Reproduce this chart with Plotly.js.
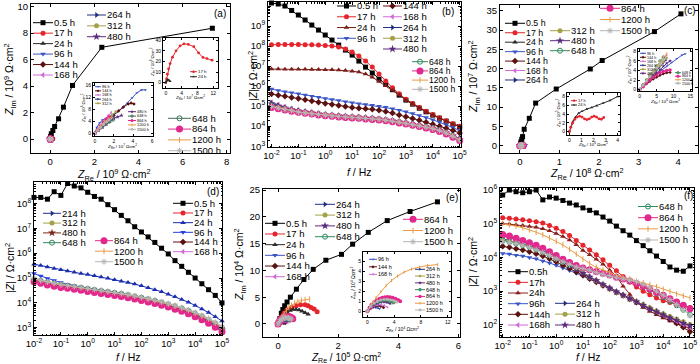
<!DOCTYPE html>
<html><head><meta charset="utf-8">
<script src="https://cdn.plot.ly/plotly-3.0.1.min.js"></script>
<style>html,body{margin:0;padding:0;background:#fff}#g{width:700px;height:364px}</style>
</head><body><div id="g"></div>
<script>
// ---------------- DATA ----------------
const fq=[0.01,0.0178,0.0316,0.0562,0.1,0.178,0.316,0.562,1,1.78,3.16,5.62,10,17.8,31.6,56.2,100,178,316,562,1000,1780,3160,5620,10000,17800,31600,56200,100000];
const KEYS=['0.5 h','17 h','24 h','96 h','144 h','168 h','264 h','312 h','480 h','648 h','864 h','1200 h','1500 h'];
// log-axis tick labels
const fTickVals=[0.01,0.1,1,10,100,1000,10000,100000];
const fTickText=['10<sup>-2</sup>','10<sup>-1</sup>','10<sup>0</sup>','10<sup>1</sup>','10<sup>2</sup>','10<sup>3</sup>','10<sup>4</sup>','10<sup>5</sup>'];
const zTickVals=[1e2,1e3,1e4,1e5,1e6,1e7,1e8,1e9,1e10];
const zTickText=['10<sup>2</sup>','10<sup>3</sup>','10<sup>4</sup>','10<sup>5</sup>','10<sup>6</sup>','10<sup>7</sup>','10<sup>8</sup>','10<sup>9</sup>','10<sup>10</sup>'];

// panel (b) |Z|
const b_z05=[1.41e10,1.26e10,1.0e10,6.0e9,3.55e9,2.0e9,1.12e9,6.3e8,3.55e8,2.0e8,1.12e8,6.3e7,3.55e7,1.78e7,8.9e6,4.5e6,2.24e6,1.2e6,6.6e5,3.55e5,2.0e5,1.26e5,7.9e4,5.2e4,3.55e4,2.5e4,1.78e4,1.26e4,9.5e3];
const b_z17=[1.17e8,1.2e8,1.2e8,1.2e8,1.2e8,1.17e8,1.15e8,1.12e8,1.07e8,1.0e8,8.9e7,7.1e7,5.0e7,3.16e7,1.78e7,8.9e6,4.0e6,1.78e6,8.3e5,4.2e5,2.24e5,1.35e5,8.5e4,5.6e4,3.8e4,2.6e4,1.86e4,1.32e4,1.0e4];
const b_z24=[7.1e6,7.1e6,7.0e6,7.0e6,6.9e6,6.9e6,6.8e6,6.7e6,6.6e6,6.5e6,6.3e6,6.0e6,5.6e6,5.0e6,4.0e6,2.8e6,1.7e6,1.05e6,6.2e5,3.6e5,2.1e5,1.3e5,8.2e4,5.3e4,3.6e4,2.5e4,1.78e4,1.26e4,9.5e3];
const b_z96=[7.1e5,6.0e5,5.2e5,4.7e5,4.2e5,3.55e5,3.16e5,2.8e5,2.4e5,2.14e5,1.9e5,1.66e5,1.48e5,1.32e5,1.2e5,1.1e5,1.0e5,8.7e4,7.4e4,6.3e4,5.2e4,4.3e4,3.4e4,2.7e4,2.1e4,1.58e4,1.17e4,8.5e3,6.0e3];
const b_z144=[4.0e5,3.5e5,3.1e5,2.7e5,2.4e5,2.1e5,1.82e5,1.55e5,1.35e5,1.2e5,1.07e5,9.5e4,8.5e4,7.9e4,7.4e4,6.9e4,6.3e4,5.4e4,4.5e4,3.6e4,2.95e4,2.4e4,1.95e4,1.58e4,1.26e4,9.8e3,7.8e3,6.0e3,4.6e3];
const b_z168=[1.6e5,1.2e5,9.3e4,7.4e4,6.2e4,5.4e4,4.8e4,4.3e4,3.9e4,3.55e4,3.3e4,3.1e4,2.9e4,2.75e4,2.6e4,2.45e4,2.3e4,2.1e4,1.9e4,1.7e4,1.48e4,1.29e4,1.12e4,9.6e3,8.1e3,6.5e3,5.0e3,3.5e3,2.3e3];
const b_z264=[1.45e5,1.1e5,8.7e4,7.1e4,6.0e4,5.3e4,4.7e4,4.2e4,3.8e4,3.5e4,3.3e4,3.1e4,2.9e4,2.8e4,2.6e4,2.5e4,2.3e4,2.1e4,1.9e4,1.7e4,1.48e4,1.3e4,1.12e4,9.8e3,8.3e3,6.6e3,5.1e3,3.6e3,2.4e3];
const b_z312=[1.2e5,9.5e4,7.8e4,6.5e4,5.6e4,5.0e4,4.5e4,4.0e4,3.65e4,3.4e4,3.2e4,3.0e4,2.85e4,2.72e4,2.55e4,2.42e4,2.26e4,2.06e4,1.84e4,1.64e4,1.43e4,1.25e4,1.08e4,9.4e3,8.0e3,6.4e3,4.9e3,3.4e3,2.2e3];
const b_z480=[1.3e5,1.0e5,8.1e4,6.7e4,5.7e4,5.1e4,4.6e4,4.1e4,3.7e4,3.45e4,3.25e4,3.0e4,2.85e4,2.72e4,2.55e4,2.42e4,2.25e4,2.05e4,1.83e4,1.63e4,1.42e4,1.24e4,1.07e4,9.3e3,7.9e3,6.3e3,4.8e3,3.3e3,2.1e3];
const b_z648=[1.05e5,8.6e4,7.3e4,6.2e4,5.3e4,4.8e4,4.35e4,3.95e4,3.6e4,3.35e4,3.15e4,2.95e4,2.8e4,2.68e4,2.5e4,2.38e4,2.22e4,2.02e4,1.8e4,1.6e4,1.4e4,1.22e4,1.05e4,9.1e3,7.7e3,6.1e3,4.6e3,3.2e3,2.05e3];
const b_z864=[8.5e4,7.4e4,6.4e4,5.6e4,4.9e4,4.4e4,4.0e4,3.65e4,3.35e4,3.1e4,2.9e4,2.72e4,2.58e4,2.46e4,2.3e4,2.18e4,2.04e4,1.85e4,1.65e4,1.46e4,1.27e4,1.1e4,9.5e3,8.2e3,6.9e3,5.4e3,4.1e3,2.8e3,1.9e3];
const b_z1200=[1.0e5,8.3e4,7.0e4,6.0e4,5.2e4,4.7e4,4.3e4,3.9e4,3.55e4,3.3e4,3.1e4,2.92e4,2.78e4,2.65e4,2.48e4,2.36e4,2.2e4,2.0e4,1.79e4,1.59e4,1.38e4,1.2e4,1.04e4,9.0e3,7.6e3,6.0e3,4.6e3,3.2e3,2.05e3];
const b_z1500=[9.5e4,8.0e4,6.8e4,5.9e4,5.1e4,4.6e4,4.2e4,3.85e4,3.5e4,3.25e4,3.05e4,2.88e4,2.74e4,2.62e4,2.45e4,2.33e4,2.17e4,1.98e4,1.77e4,1.57e4,1.37e4,1.19e4,1.03e4,8.9e3,7.5e3,5.9e3,4.5e3,3.1e3,2.0e3];

// panel (d) |Z|
const d_z05=[1.74e8,1.74e8,1.48e8,2.95e8,2.1e8,6.3e8,5.0e8,4.2e8,2.8e8,1.9e8,1.48e8,8.9e7,5.6e7,3.3e7,2.0e7,1.15e7,7.1e6,4.5e6,2.7e6,1.58e6,9.3e5,5.0e5,2.95e5,1.7e5,1.0e5,5.9e4,3.4e4,2.0e4,1.0e4];
const d_z17=[7.6e4,6.5e4,5.6e4,5.0e4,4.5e4,4.1e4,3.7e4,3.4e4,3.1e4,2.8e4,2.55e4,2.35e4,2.14e4,1.95e4,1.74e4,1.55e4,1.35e4,1.17e4,1.02e4,8.7e3,7.2e3,6.0e3,4.9e3,3.9e3,3.0e3,2.25e3,1.62e3,1.12e3,7.4e2];
const d_z24=[3.6e5,3.16e5,2.75e5,2.4e5,2.14e5,1.9e5,1.7e5,1.51e5,1.38e5,1.23e5,1.1e5,9.8e4,8.5e4,7.4e4,6.6e4,5.75e4,4.9e4,4.1e4,3.4e4,2.8e4,2.24e4,1.78e4,1.38e4,1.07e4,7.9e3,5.75e3,4.1e3,2.8e3,1.86e3];
const d_z96=[1.51e5,1.2e5,9.5e4,7.9e4,6.6e4,5.6e4,4.9e4,4.4e4,3.9e4,3.5e4,3.16e4,2.9e4,2.6e4,2.35e4,2.1e4,1.86e4,1.66e4,1.45e4,1.26e4,1.07e4,8.9e3,7.4e3,6.0e3,4.8e3,3.7e3,2.8e3,2.1e3,1.48e3,1.0e3];
const d_z144=[8.0e4,6.9e4,6.0e4,5.3e4,4.8e4,4.35e4,4.0e4,3.6e4,3.3e4,3.0e4,2.75e4,2.5e4,2.3e4,2.1e4,1.86e4,1.66e4,1.45e4,1.26e4,1.1e4,9.3e3,7.8e3,6.5e3,5.3e3,4.2e3,3.2e3,2.4e3,1.75e3,1.2e3,7.9e2];
const d_z168=[7.4e4,6.3e4,5.5e4,4.9e4,4.4e4,4.0e4,3.65e4,3.3e4,3.0e4,2.75e4,2.5e4,2.3e4,2.1e4,1.9e4,1.7e4,1.5e4,1.32e4,1.15e4,1.0e4,8.5e3,7.1e3,5.9e3,4.8e3,3.8e3,2.95e3,2.2e3,1.6e3,1.1e3,7.2e2];
const d_z214=[8.5e4,7.3e4,6.4e4,5.7e4,5.1e4,4.6e4,4.2e4,3.8e4,3.5e4,3.2e4,2.9e4,2.65e4,2.4e4,2.2e4,1.95e4,1.74e4,1.52e4,1.32e4,1.15e4,9.8e3,8.2e3,6.8e3,5.6e3,4.5e3,3.5e3,2.6e3,1.9e3,1.32e3,8.7e2];
const d_z312=[8.7e4,7.4e4,6.5e4,5.8e4,5.2e4,4.7e4,4.3e4,3.9e4,3.55e4,3.25e4,2.95e4,2.7e4,2.45e4,2.24e4,2.0e4,1.78e4,1.55e4,1.35e4,1.17e4,1.0e4,8.4e3,7.0e3,5.8e3,4.6e3,3.6e3,2.7e3,1.95e3,1.38e3,9.1e2];
const d_z480=[8.3e4,7.1e4,6.2e4,5.5e4,4.9e4,4.5e4,4.1e4,3.7e4,3.4e4,3.1e4,2.8e4,2.6e4,2.35e4,2.14e4,1.9e4,1.7e4,1.48e4,1.29e4,1.12e4,9.5e3,7.9e3,6.6e3,5.4e3,4.3e3,3.3e3,2.5e3,1.82e3,1.26e3,8.3e2];
const d_z648=[8.9e4,7.6e4,6.7e4,5.9e4,5.3e4,4.8e4,4.4e4,4.0e4,3.65e4,3.3e4,3.0e4,2.75e4,2.5e4,2.3e4,2.05e4,1.82e4,1.6e4,1.4e4,1.22e4,1.04e4,8.7e3,7.3e3,6.0e3,4.8e3,3.75e3,2.85e3,2.1e3,1.48e3,1.0e3];
const d_z864=[7.1e4,6.1e4,5.3e4,4.7e4,4.2e4,3.85e4,3.5e4,3.2e4,2.9e4,2.65e4,2.4e4,2.2e4,2.0e4,1.82e4,1.62e4,1.45e4,1.26e4,1.1e4,9.5e3,8.1e3,6.8e3,5.6e3,4.6e3,3.65e3,2.8e3,2.1e3,1.52e3,1.05e3,6.9e2];
const d_z1200=[9.1e4,7.8e4,6.8e4,6.0e4,5.4e4,4.9e4,4.5e4,4.1e4,3.7e4,3.4e4,3.1e4,2.8e4,2.55e4,2.35e4,2.1e4,1.86e4,1.62e4,1.42e4,1.24e4,1.06e4,8.9e3,7.4e3,6.1e3,4.9e3,3.85e3,2.95e3,2.2e3,1.55e3,1.05e3];
const d_z1500=[9.3e4,8.0e4,7.0e4,6.2e4,5.5e4,5.0e4,4.6e4,4.2e4,3.8e4,3.5e4,3.2e4,2.9e4,2.65e4,2.42e4,2.16e4,1.92e4,1.68e4,1.48e4,1.29e4,1.1e4,9.3e3,7.8e3,6.4e3,5.2e3,4.1e3,3.15e3,2.35e3,1.65e3,1.12e3];

// panel (f) |Z|
const f_z05=[7.1e5,1.0e6,8.9e5,8.3e5,8.9e5,1.0e6,5.1e5,6.2e5,5.75e5,4.9e5,4.1e5,3.6e5,2.95e5,2.5e5,2.1e5,1.58e5,1.2e5,8.5e4,6.2e4,4.6e4,3.16e4,2.24e4,1.58e4,1.1e4,7.6e3,5.2e3,4.2e3,3.9e3,5.6e3];
const f_z17=[1.51e5,1.45e5,1.38e5,1.32e5,1.23e5,1.15e5,1.05e5,8.9e4,7.4e4,5.9e4,4.5e4,3.16e4,2.3e4,1.66e4,1.2e4,8.5e3,5.9e3,4.0e3,2.7e3,1.86e3,1.32e3,1.0e3,7.8e2,6.3e2,5.2e2,4.6e2,4.0e2,3.6e2,3.3e2];
const f_z24=[1.02e5,9.8e4,9.3e4,8.9e4,8.3e4,7.8e4,7.1e4,6.2e4,5.1e4,4.2e4,3.3e4,2.4e4,1.6e4,1.2e4,8.9e3,6.3e3,4.2e3,2.8e3,1.4e3,7.9e2,4.8e2,3.3e2,2.5e2,2.0e2,1.6e2,1.3e2,1.1e2,9.3e1,7.9e1];
const f_z96=[1.32e4,1.26e4,1.17e4,1.1e4,1.0e4,9.1e3,7.9e3,6.9e3,5.9e3,4.9e3,4.1e3,3.4e3,2.8e3,2.3e3,1.86e3,1.51e3,1.2e3,9.5e2,7.6e2,6.0e2,4.8e2,3.8e2,3.0e2,2.45e2,2.0e2,1.62e2,1.35e2,1.12e2,9.5e1];
const f_z144=[2.14e4,2.0e4,1.82e4,1.66e4,1.48e4,1.29e4,1.1e4,9.1e3,7.4e3,5.9e3,4.7e3,3.7e3,2.95e3,2.35e3,1.86e3,1.48e3,1.17e3,9.3e2,7.4e2,5.9e2,4.7e2,3.7e2,2.95e2,2.35e2,1.86e2,1.45e2,1.12e2,8.5e1,6.3e1];
const f_z168=[4.2e4,3.8e4,3.4e4,2.95e4,2.5e4,2.1e4,1.7e4,1.35e4,1.05e4,8.1e3,6.2e3,4.7e3,3.55e3,2.7e3,2.0e3,1.58e3,1.23e3,9.5e2,7.6e2,6.0e2,4.8e2,3.8e2,3.0e2,2.4e2,1.9e2,1.55e2,1.26e2,1.02e2,8.5e1];
const f_z264=[3.55e4,3.2e4,2.9e4,2.6e4,2.24e4,1.9e4,1.58e4,1.29e4,1.02e4,7.9e3,6.2e3,4.7e3,3.55e3,2.7e3,2.1e3,1.58e3,1.23e3,9.5e2,7.6e2,6.0e2,4.8e2,3.8e2,3.1e2,2.5e2,2.0e2,1.66e2,1.38e2,1.15e2,9.5e1];
const f_z312=[3.3e4,3.1e4,2.8e4,2.5e4,2.2e4,1.86e4,1.55e4,1.26e4,1.0e4,7.8e3,6.0e3,4.6e3,3.5e3,2.6e3,2.05e3,1.58e3,1.23e3,9.5e2,7.6e2,6.0e2,4.9e2,4.0e2,3.2e2,2.6e2,2.15e2,1.78e2,1.48e2,1.23e2,1.02e2];
const f_z480=[4.6e4,4.0e4,3.5e4,2.95e4,2.45e4,2.0e4,1.58e4,1.26e4,9.8e3,7.6e3,5.9e3,4.5e3,3.4e3,2.6e3,2.05e3,1.58e3,1.23e3,9.5e2,7.6e2,6.0e2,4.8e2,3.8e2,3.0e2,2.45e2,2.0e2,1.62e2,1.35e2,1.12e2,9.5e1];
const f_z648=[3.16e4,2.9e4,2.6e4,2.35e4,2.05e4,1.74e4,1.45e4,1.17e4,9.3e3,7.4e3,6.0e3,5.1e3,4.6e3,4.2e3,3.8e3,3.4e3,3.0e3,2.6e3,2.3e3,2.0e3,1.66e3,1.35e3,1.07e3,8.5e2,6.6e2,5.0e2,3.8e2,2.8e2,2.0e2];
const f_z864=[4.8e4,4.3e4,3.7e4,3.2e4,2.75e4,2.3e4,1.86e4,1.48e4,1.15e4,8.9e3,7.1e3,5.75e3,4.9e3,4.3e3,3.8e3,3.4e3,3.0e3,2.6e3,2.3e3,2.0e3,1.7e3,1.41e3,1.15e3,9.3e2,7.6e2,6.0e2,4.8e2,3.8e2,3.0e2];
const f_z1200=[1.0e5,9.3e4,8.5e4,7.6e4,6.6e4,5.6e4,4.7e4,3.8e4,3.0e4,2.35e4,1.74e4,1.26e4,8.9e3,6.6e3,5.1e3,4.2e3,3.55e3,3.0e3,2.6e3,2.3e3,2.0e3,1.78e3,1.58e3,1.35e3,1.15e3,9.8e2,8.3e2,7.2e2,6.3e2];
const f_z1500=[3.0e4,2.8e4,2.6e4,2.3e4,2.0e4,1.7e4,1.41e4,1.15e4,9.1e3,7.4e3,6.2e3,5.2e3,4.7e3,4.2e3,3.6e3,3.16e3,2.8e3,2.5e3,2.3e3,2.1e3,1.9e3,1.58e3,1.26e3,1.0e3,7.6e2,5.6e2,4.0e2,2.8e2,1.9e2];

// panel (a) Nyquist, main (10^9 Ohm cm2)
const a_re05=[0,0.02,0.05,0.12,0.2,0.38,0.6,1.01,2.34,7.35];
const a_im05=[0.05,0.2,0.4,0.65,0.95,1.53,2.41,4.05,6.93,8.37];
// (a) inset 1 (x 10^7, y 10^6)
const ai1_re17=[0,0.2,0.4,0.7,1.1,1.7,2.6,3.6,4.6,5.7,7.1,8.3,9.4,10.4,11.7];
const ai1_im17=[0,3.5,8,13,18,24,30,34.5,36.5,36,33.8,28,23.7,22.7,21.1];
const ai1_re24=[0,0.15,0.3,0.5,0.7,0.9,1.1];
const ai1_im24=[0,1.2,2.2,2.8,2.6,2.0,1.2];
// (a) inset 2 (x 10^7, y 10^6)
const ai2_re96=[0,0.2,0.5,0.8,1.2,1.7,2.3,2.9,3.4,3.9,4.4,4.9,5.3];
const ai2_im96=[0,2,3.5,4.5,5,5.8,7,8.5,10,11.8,13.5,14.5,14.5];
const ai2_re144=[0,0.3,0.6,1,1.5,2,2.5,3,3.5,3.8,4.1];
const ai2_im144=[0,1.2,2.4,3.6,4.8,6,7.5,8.8,9.8,10.1,9.8];
const ai2_re168=[0,0.2,0.5,0.8,1.1,1.4,1.7];
const ai2_im168=[0,1,2.2,3.5,4.8,6,7];
const ai2_re264=[0,0.3,0.6,0.9,1.2,1.6,2.0];
const ai2_im264=[0,1,2,3,4,5,6];
const ai2_re312=[0,0.3,0.6,1,1.4,1.8,2.2];
const ai2_im312=[0,1.2,2.5,3.8,5,6.2,7.2];
const ai2_re480=[0,0.4,0.8,1.2,1.6,2.0,2.4,2.8];
const ai2_im480=[0,1,2,3,4,5,5.5,6];
const ai2_re648=[0,0.3,0.7,1.1,1.5,1.9];
const ai2_im648=[0,1,2,3,3.8,4.5];
const ai2_re864=[0,0.3,0.6,0.9,1.2,1.5];
const ai2_im864=[0,1.2,2.5,3.6,4.6,5.4];
const ai2_re1200=[0,0.3,0.6,1,1.4,1.8];
const ai2_im1200=[0,1.3,2.6,3.8,4.8,5.6];
const ai2_re1500=[0,0.3,0.6,0.9,1.2,1.5];
const ai2_im1500=[0,1,2,3,3.8,4.5];

// panel (c) main (x 10^8, y 10^7)
const c_re05=[0,0.02,0.03,0.05,0.07,0.11,0.24,0.4,0.92,1.78,2.08,3.4,4.07];
const c_im05=[0,0.5,1.0,1.65,2.35,4.26,7.1,11.05,14.7,19.9,22.1,29.6,34.2];
// (c) inset 1 (x 10^6, y 10^5)
const ci1_re17=[0,0.1,0.25,0.45,0.65,0.85,1.05,1.25,1.45,1.65,1.85,2.05,2.25,2.45,2.65,2.85];
const ci1_im17=[0,0.9,1.9,2.8,3.3,3.5,3.3,2.9,2.7,2.9,3.3,3.5,3.3,2.9,2.8,3.2];
const ci1_re24=[0,0.14,0.3,0.5,0.77,1.04,1.45,1.86,2.27,2.8,3.37,4.0];
const ci1_im24=[0,1.15,2.3,3.3,4.2,4.6,5.15,5.5,5.9,6.5,7.1,8.0];
// (c) inset 2 (x 10^6, y 10^5)
const ci2_re96=[0,1,2,3.5,5,6.5,8,9.5,11,12.5,13.5];
const ci2_im96=[0,0.8,1.6,2.5,3.3,4.1,4.9,5.7,6.5,7.2,7.5];
const ci2_re144=[0,1,2,3,4,5,6,7,8,9];
const ci2_im144=[0,0.6,1.2,1.7,2.2,2.6,3,3.3,3.5,3.6];
const ci2_re168=[0,1,2,3,4,5,6,7,8];
const ci2_im168=[0,0.9,1.8,2.7,3.6,4.5,5.4,6.3,7.2];
const ci2_re264=[0,1,2,3,4,5,6,7,7.8];
const ci2_im264=[0,0.8,1.6,2.4,3.2,4,4.8,5.6,6.2];
const ci2_re312=[0,1,2,3,4,5,6,7,8];
const ci2_im312=[0,0.85,1.7,2.5,3.4,4.2,5,5.8,6.6];
const ci2_re480=[0,1,2,3,4,5,6,7,8,9];
const ci2_im480=[0,0.7,1.4,2.1,2.8,3.5,4.2,4.9,5.5,6.0];
const ci2_re648=[0,1,2,3,4,5,6,7];
const ci2_im648=[0,1,2,3,4,5,6,6.8];
const ci2_re864=[0,1,2,3,4,5,6,7,8,9];
const ci2_im864=[0,0.6,1.3,2.0,2.6,3.1,3.5,3.8,4.0,4.1];
const ci2_re1200=[0,1,2,3,4,5,6,7,8];
const ci2_im1200=[0,1,2,3,4,4.9,5.8,6.7,7.5];
const ci2_re1500=[0,1,2,3,4,5,6,7];
const ci2_im1500=[0,0.9,1.8,2.7,3.6,4.5,5.4,6.3];

// panel (e) main (x 10^5, y 10^4)
const e_re05=[0,0.06,0.11,0.16,0.22,0.3,0.41,0.61,0.86,1.17,1.59,2.11,2.48,3.0,3.63,4.39,5.3];
const e_im05=[0,1.0,2.0,2.7,3.4,4.1,5.0,6.5,8.3,10.2,11.9,13.0,14.9,17.1,19.3,21.0,22.8];
const e_re17=[0,0.1,0.2,0.3,0.45,0.6,0.75,0.9,1.0,1.1,1.2,1.3];
const e_im17=[0,1.2,2.0,2.6,3.1,3.4,3.6,3.6,3.4,3.1,2.8,2.3];
const e_re24=[0,0.1,0.2,0.3,0.4,0.5,0.6,0.7,0.8,0.9,1.0];
const e_im24=[0,1.0,1.7,2.2,2.5,2.7,2.7,2.6,2.4,2.1,1.8];
// (e) inset (x 10^4, y 10^4)
const ei_re96=[0,0.3,0.6,0.9,1.2,1.5,1.8];
const ei_im96=[0,0.2,0.32,0.38,0.38,0.33,0.25];
const ei_re144=[0,0.4,0.8,1.2,1.6,2.0,2.4];
const ei_im144=[0,0.25,0.42,0.52,0.55,0.5,0.38];
const ei_re168=[0,0.5,1,1.5,2,2.5,3.0];
const ei_im168=[0,0.3,0.5,0.62,0.65,0.58,0.4];
const ei_re264=[0,0.5,1,1.5,2,2.5,3,3.5,3.9];
const ei_im264=[0,0.4,0.65,0.85,0.97,1.02,1.0,0.92,0.8];
const ei_re312=[0,0.5,1,1.5,2,2.5,3,3.5,4.0];
const ei_im312=[0,0.42,0.7,0.9,1.02,1.08,1.07,1.0,0.88];
const ei_re480=[0,0.5,1,1.5,2,2.5,3,3.4];
const ei_im480=[0,0.38,0.62,0.8,0.9,0.93,0.88,0.78];
const ei_re648=[0,0.5,1,1.5,2,2.5,3,3.5,3.9];
const ei_im648=[0,0.45,0.72,0.92,1.05,1.1,1.08,1.0,0.9];
const ei_re864=[0,0.3,0.6,1,1.4,1.8,2.2,2.6,3.0,3.4,3.8,4.2,4.6,4.9];
const ei_im864=[0,0.35,0.65,0.9,1.1,1.25,1.35,1.4,1.42,1.4,1.35,1.25,1.12,1.0];
const ei_re1200=[0,0.6,1.3,2,2.8,3.6,4.5,5.5,6.6,7.8,9.0,10.5];
const ei_im1200=[0,0.7,1.35,1.95,2.55,3.05,3.5,3.9,4.2,4.4,4.55,4.65];
const ei_re1500=[0,0.5,1,1.5,2,2.5,3,3.5,4,4.4];
const ei_im1500=[0,0.5,0.8,1.0,1.12,1.18,1.18,1.12,1.03,0.92];

// ---------------- STYLE / LAYOUT ----------------
const W=700,H=364;
const FONT='Arial, "Liberation Sans", sans-serif';
const ST={
 '0.5 h':['#000000','square',5],
 '17 h':['#e5242b','circle',5],
 '24 h':['#2b2b2b','triangle-up',5],
 '96 h':['#3b55c9','triangle-down',5],
 '144 h':['#5c1111','diamond',5],
 '168 h':['#cf6bd6','triangle-left',5],
 '264 h':['#1f2d7e','triangle-right',5],
 '312 h':['#a3a24a','circle',5],
 '480 h':['#5b2a7c','star',6],
 '648 h':['#2f8a5d','circle-open',5],
 '864 h':['#e2288c','circle',7],
 '1200 h':['#ea9a43','line-ns-open',4],
 '1500 h':['#b5b5b5','asterisk-open',5]
};
const OV_B={'24 h':{c:'#7b1d16'}};
const OV_D={'24 h':{c:'#1b2fb0'},'96 h':{c:'#2a3fe0'},'480 h':{c:'#7a2a1a'}};
const OV_F={'24 h':{c:'#8a1d1d'}};
const OV_A={'648 h':{c:'#3f6f58'}};

function sty(key,ov){const b=ST[key];const o=(ov&&ov[key])||{};return {c:o.c||b[0],sym:o.sym||b[1],s:b[2]};}
const traces=[];
const layout={width:W,height:H,margin:{l:0,r:0,t:0,b:0},paper_bgcolor:'#fff',plot_bgcolor:'rgba(0,0,0,0)',
  showlegend:false,hovermode:false,annotations:[],font:{family:FONT,size:10,color:'#000'}};
const dx=(l,r)=>[l/W,r/W];
const dy=(t,b)=>[1-b/H,1-t/H];
function AX(fs){return {showline:true,linecolor:'#000',linewidth:1,mirror:'ticks',ticks:'inside',ticklen:fs>7?3:2,
  tickwidth:1,tickcolor:'#000',showgrid:false,zeroline:false,autorange:false,fixedrange:true,
  tickfont:{family:FONT,size:fs,color:'#000'}};}
function LOG(vals,text){return {type:'log',tickmode:'array',tickvals:vals,ticktext:text,
  minor:{ticks:'inside',ticklen:1.5,tickcolor:'#000',dtick:'D1'}};}
function LIN(d){return {dtick:d,tick0:0};}
function mkAx(n,xd,yd,xr,yr,xo,yo,fs){
  const s=n===1?'':n;
  layout['xaxis'+s]=Object.assign(AX(fs),{domain:xd,range:xr,anchor:'y'+s},xo);
  layout['yaxis'+s]=Object.assign(AX(fs),{domain:yd,range:yr,anchor:'x'+s},yo);
}
mkAx(1,dx(31,230),dy(4,153),[-0.87,8.15],[-1.05,10.2],LIN(2),LIN(2),9.5);
mkAx(2,dx(268,461),dy(2,147),[-2.13,5.05],[2.96,10.2],LOG(fTickVals,fTickText),LOG(zTickVals,zTickText),9.5);
mkAx(3,dx(500,698),dy(5,153),[-0.5,4.5],[-1.9,36.5],LIN(1),LIN(5),9.5);
mkAx(4,dx(34,222),dy(182,335),[-2,5],[2.71,8.86],LOG(fTickVals,fTickText),LOG(zTickVals,zTickText),9.5);
mkAx(5,dx(263,460),dy(189,337),[-0.5,6.05],[-2.43,25.2],LIN(2),LIN(5),9.5);
mkAx(6,dx(500,694),dy(188,337),[-2.1,5.15],[1.64,6.06],LOG(fTickVals,fTickText),LOG(zTickVals,zTickText),9.5);
mkAx(7,dx(163,218),dy(38,88),[-0.7,13.2],[-5,42],LIN(4),LIN(10),5);
mkAx(8,dx(93,153),dy(83,136),[-0.2,6.1],[-0.9,16.8],LIN(2),LIN(4),5);
mkAx(9,dx(567,620),dy(93,135),[-0.2,4.2],[-0.8,8.8],LIN(1),LIN(2),5);
mkAx(10,dx(638,692),dy(49,91),[-0.5,15.5],[-0.3,8.5],LIN(5),LIN(2),5);
mkAx(11,dx(363,451),dy(252,317),[-0.66,12.5],[-0.57,5.9],LIN(4),LIN(1),5);

function addData(n,key,x,y,k,ov,lw){
  const s=sty(key,ov);const open=s.sym.indexOf('open')>=0;const id=n===1?'':n;
  traces.push({type:'scatter',mode:'lines+markers',x:x,y:y,xaxis:'x'+id,yaxis:'y'+id,cliponaxis:false,
    line:{color:s.c,width:lw||1},marker:{symbol:s.sym,size:s.s*k,color:s.c,line:{color:s.c,width:open?1:0}},showlegend:false});
}
let axN=11;
function legendCol(gx0,gx1,y0,y1,items,fs,k,ov){
  axN++;const n=items.length;const d=n>1?(y1-y0)/(n-1):10;
  const xid='x'+axN,yid='y'+axN;
  layout['xaxis'+axN]={domain:[gx0/W,gx1/W],range:[0,1],visible:false,anchor:yid,fixedrange:true};
  layout['yaxis'+axN]={domain:[1-(y1+d/2)/H,1-(y0-d/2)/H],range:[n-0.5,-0.5],anchor:xid,side:'right',
    showline:false,showgrid:false,zeroline:false,ticks:'',tickmode:'array',tickvals:items.map((_,i)=>i),
    ticktext:items.map(it=>it[1]),tickfont:{family:FONT,size:fs,color:'#000'},fixedrange:true};
  items.forEach((it,i)=>{const s=sty(it[0],ov);const open=s.sym.indexOf('open')>=0;
    traces.push({type:'scatter',mode:'lines+markers',x:[0,0.5,1],y:[i,i,i],xaxis:xid,yaxis:yid,cliponaxis:false,
      line:{color:s.c,width:1},marker:{symbol:s.sym,size:[0,s.s*k,0],opacity:[0,1,0],color:s.c,line:{color:s.c,width:open?1:0}},showlegend:false});});
}
const L=(keys,labels)=>keys.map((kk,i)=>[kk,labels?labels[i]:kk]);
function ann(x,y,text,fs,extra){layout.annotations.push(Object.assign({x:x/W,y:1-y/H,xref:'paper',yref:'paper',text:text,
  showarrow:false,font:{family:FONT,size:fs,color:'#000'},xanchor:'center',yanchor:'middle'},extra||{}));}
const sc=(a,k)=>a.map(v=>v*k);

// ---- (a) ----
const aSet=[['0.5 h',a_re05,a_im05,1,1],['17 h',ai1_re17,ai1_im17,0.01,0.001],['24 h',ai1_re24,ai1_im24,0.01,0.001],
 ['96 h',ai2_re96,ai2_im96,0.01,0.001],['144 h',ai2_re144,ai2_im144,0.01,0.001],['168 h',ai2_re168,ai2_im168,0.01,0.001],
 ['264 h',ai2_re264,ai2_im264,0.01,0.001],['312 h',ai2_re312,ai2_im312,0.01,0.001],['480 h',ai2_re480,ai2_im480,0.01,0.001],
 ['648 h',ai2_re648,ai2_im648,0.01,0.001],['864 h',ai2_re864,ai2_im864,0.01,0.001],['1200 h',ai2_re1200,ai2_im1200,0.01,0.001],
 ['1500 h',ai2_re1500,ai2_im1500,0.01,0.001]];
aSet.forEach(s=>addData(1,s[0],sc(s[1],s[3]),sc(s[2],s[4]),1,OV_A));
addData(7,'17 h',ai1_re17,ai1_im17,0.55);addData(7,'24 h',ai1_re24,ai1_im24,0.55);
aSet.slice(3).forEach(s=>addData(8,s[0],s[1],s[2],0.55,OV_A));
// ---- (b) ----
[b_z05,b_z17,b_z24,b_z96,b_z144,b_z168,b_z264,b_z312,b_z480,b_z648,b_z864,b_z1200,b_z1500].forEach((z,i)=>addData(2,KEYS[i],fq,z,1,OV_B));
// ---- (c) ----
addData(3,'0.5 h',c_re05,c_im05,1);
addData(3,'17 h',sc(ci1_re17,0.01),sc(ci1_im17,0.01),1);addData(3,'24 h',sc(ci1_re24,0.01),sc(ci1_im24,0.01),1);
const cSet=[['96 h',ci2_re96,ci2_im96],['144 h',ci2_re144,ci2_im144],['168 h',ci2_re168,ci2_im168],['264 h',ci2_re264,ci2_im264],
 ['312 h',ci2_re312,ci2_im312],['480 h',ci2_re480,ci2_im480],['648 h',ci2_re648,ci2_im648],['864 h',ci2_re864,ci2_im864],
 ['1200 h',ci2_re1200,ci2_im1200],['1500 h',ci2_re1500,ci2_im1500]];
cSet.forEach(s=>addData(3,s[0],sc(s[1],0.01),sc(s[2],0.01),1));
addData(9,'24 h',ci1_re24,ci1_im24,0.55);addData(9,'17 h',ci1_re17,ci1_im17,0.55);
cSet.forEach(s=>addData(10,s[0],s[1],s[2],0.5));
// ---- (d) ----
[d_z05,d_z17,d_z24,d_z96,d_z144,d_z168,d_z214,d_z312,d_z480,d_z648,d_z864,d_z1200,d_z1500].forEach((z,i)=>addData(4,KEYS[i],fq,z,1,OV_D));
// ---- (e) ----
addData(5,'0.5 h',e_re05,e_im05,1);addData(5,'17 h',e_re17,e_im17,1);addData(5,'24 h',e_re24,e_im24,1);
const eSet=[['96 h',ei_re96,ei_im96],['144 h',ei_re144,ei_im144],['168 h',ei_re168,ei_im168],['264 h',ei_re264,ei_im264],
 ['312 h',ei_re312,ei_im312],['480 h',ei_re480,ei_im480],['648 h',ei_re648,ei_im648],['864 h',ei_re864,ei_im864],
 ['1200 h',ei_re1200,ei_im1200],['1500 h',ei_re1500,ei_im1500]];
eSet.forEach(s=>addData(5,s[0],sc(s[1],0.1),s[2],1));
eSet.forEach(s=>addData(11,s[0],s[1],s[2],0.55));
// ---- (f) ----
[f_z05,f_z17,f_z24,f_z96,f_z144,f_z168,f_z264,f_z312,f_z480,f_z648,f_z864,f_z1200,f_z1500].forEach((z,i)=>addData(6,KEYS[i],fq,z,1,OV_F));

// ---- legends ----
const FS=9.5;
legendCol(33,53,22.7,75,L(['0.5 h','17 h','24 h','96 h','144 h','168 h']),FS,1,OV_A);
legendCol(87,106,15,36.7,L(['264 h','312 h','480 h']),FS,1,OV_A);
legendCol(168,191,118.3,150.7,L(['648 h','864 h','1200 h','1500 h']),FS,1,OV_A);
legendCol(337,356,6,38.3,L(['0.5 h','17 h','24 h','96 h']),FS,1,OV_B);
legendCol(383,402,6,49,L(['144 h','168 h','264 h','312 h','480 h']),FS,1,OV_B);
legendCol(412,428,61.7,89.3,L(['648 h','864 h','1200 h','1500 h']),8.6,1,OV_B);
legendCol(505,525,23.3,80,L(['0.5 h','17 h','24 h','96 h','144 h','168 h','264 h']),8.8,1);
legendCol(550,570,30.7,50.7,L(['312 h','480 h','648 h']),FS,1);
legendCol(600,620,8.3,30.7,L(['864 h','1200 h','1500 h']),FS,1);
legendCol(173,193,203.3,251.7,L(['0.5 h','17 h','24 h','96 h','144 h','168 h']),FS,1,OV_D);
legendCol(43,61,213.3,242.7,L(['264 h','312 h','480 h','648 h'],['214 h','312 h','480 h','648 h']),FS,1,OV_D);
legendCol(95,113,240.7,261.7,L(['864 h','1200 h','1500 h']),FS,1,OV_D);
legendCol(265,285,223.3,276.7,L(['0.5 h','17 h','24 h','96 h','144 h','168 h']),FS,1);
legendCol(315,335,204.3,236.7,L(['264 h','312 h','480 h','648 h']),FS,1);
legendCol(403,423,219.3,241.7,L(['864 h','1200 h','1500 h']),FS,1);
legendCol(638,658,206.5,240,L(['648 h','864 h','1200 h','1500 h']),FS,1,OV_F);
legendCol(508,528,271.7,325,L(['0.5 h','17 h','24 h','96 h','144 h','168 h'],['0.5h','17h','24h','96h','144h','168h']),FS,1,OV_F);
legendCol(555,575,303.3,325,L(['264 h','312 h','480 h']),FS,1,OV_F);
// inset legends
legendCol(190,197,71.7,76.7,L(['17 h','24 h']),4.4,0.5);
legendCol(95,101,86.7,103.3,L(['96 h','144 h','168 h','264 h','312 h']),3.9,0.45,OV_A);
legendCol(128,136,111.7,129.3,L(['480 h','648 h','864 h','1200 h','1500 h']),3.9,0.45,OV_A);
legendCol(571,577,100.7,105,L(['17 h','24 h']),4,0.45);
legendCol(640,646,53.3,73.3,L(['96 h','144 h','168 h','264 h','312 h','480 h']),3.7,0.45);
legendCol(675,681,72.7,83.3,L(['648 h','864 h','1200 h','1500 h']),3.6,0.45);
legendCol(369,377,259.3,274.3,L(['96 h','144 h','168 h']),5.5,0.5);
legendCol(415,425,269.3,310,L(['264 h','312 h','480 h','648 h','864 h','1200 h','1500 h']),5.5,0.5);

// ---- axis titles & panel labels ----
const OHM=' Ω·cm<sup>2</sup>';
const T=10.5;
ann(114,174.5,'<i>Z</i><sub>Re</sub> / 10<sup>9</sup>'+OHM,T);
ann(10,80,'<i>Z</i><sub>Im</sub> / 10<sup>9</sup>'+OHM,T,{textangle:-90});
ann(360,172,'<i>f</i> / Hz',T);
ann(252,76,'|<i>Z</i>| /'+OHM,T,{textangle:-90});
ann(587,174,'<i>Z</i><sub>Re</sub> / 10<sup>8</sup>'+OHM,T);
ann(474,77,'<i>Z</i><sub>Im</sub> / 10<sup>7</sup>'+OHM,T,{textangle:-90});
ann(128,357,'<i>f</i> / Hz',T);
ann(9,268,'|<i>Z</i>| /'+OHM,T,{textangle:-90});
ann(346,357.2,'<i>Z</i><sub>Re</sub> / 10<sup>5</sup>'+OHM,10);
ann(240,265,'<i>Z</i><sub>Im</sub> / 10<sup>4</sup>'+OHM,T,{textangle:-90});
ann(588,357,'<i>f</i> / Hz',T);
ann(472,262,'|<i>Z</i>| /'+OHM,T,{textangle:-90});
ann(220,14,'(a)',10);ann(448,11,'(b)',10);ann(690,10,'(c)',10);
ann(213,191,'(d)',10);ann(452,198,'(e)',10);ann(688,195,'(f)',10);
// inset titles
const IT=4.4;
ann(190,98,'<i>Z</i><sub>Re</sub> / 10<sup>7</sup> Ωcm<sup>2</sup>',IT);
ann(152,62,'<i>Z</i><sub>Im</sub> / 10<sup>6</sup> Ωcm<sup>2</sup>',IT,{textangle:-90});
ann(122,146,'<i>Z</i><sub>Re</sub> / 10<sup>7</sup> Ωcm<sup>2</sup>',IT);
ann(83,108,'<i>Z</i><sub>Im</sub> / 10<sup>6</sup> Ωcm<sup>2</sup>',IT,{textangle:-90});
ann(593,145,'<i>Z</i><sub>Re</sub> / 10<sup>6</sup> Ωcm<sup>2</sup>',IT);
ann(558,113,'<i>Z</i><sub>Im</sub> / 10<sup>5</sup> Ωcm<sup>2</sup>',IT,{textangle:-90});
ann(665,101,'<i>Z</i><sub>Re</sub> / 10<sup>6</sup> Ωcm<sup>2</sup>',IT);
ann(629,70,'<i>Z</i><sub>Im</sub> / 10<sup>5</sup> Ωcm<sup>2</sup>',IT,{textangle:-90});
ann(402,329,'<i>Z</i><sub>Re</sub> / 10<sup>4</sup> Ωcm<sup>2</sup>',5);
ann(353,284,'<i>Z</i><sub>Im</sub> / 10<sup>4</sup> Ωcm<sup>2</sup>',5,{textangle:-90});

Plotly.newPlot('g',traces,layout,{staticPlot:true,displayModeBar:false});
</script></body></html>
